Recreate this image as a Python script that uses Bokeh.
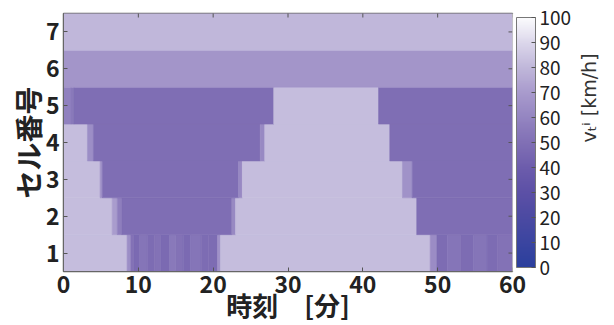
import numpy as np
from bokeh.plotting import figure
from bokeh.models import (ColumnDataSource, LinearColorMapper, ColorBar, FixedTicker,
                          LinearAxis)
from bokeh.transform import transform
from bokeh.embed import file_html
from bokeh.resources import INLINE

# ---------------- data ----------------
cells = [1, 2, 3, 4, 5, 6, 7]
x_ticks = [0, 10, 20, 30, 40, 50, 60]
cbar_ticks = [0, 10, 20, 30, 40, 50, 60, 70, 80, 90, 100]

# time breakpoints [min] and speed [km/h] of each piece, per cell
row1_edges = [0, 8.5, 9.0, 9.4, 10.2, 11.2, 12.2, 13.0, 14.2, 15.0, 16.0, 17.0, 18.4, 19.4,
              20.6, 21.0, 49.0, 49.9, 51.3, 53.1, 54.8, 56.6, 58.0, 60]
row1_speed = [82, 64, 51, 47, 52, 48, 51, 47, 54, 51, 47, 52, 48, 48,
              66, 82, 63, 48, 52, 48, 52, 48, 51]
row2_edges = [0, 6.5, 7.2, 7.8, 22.5, 23.0, 47.2, 60]
row2_speed = [82, 70, 57, 49, 62, 82, 49]
row3_edges = [0, 4.9, 5.2, 23.4, 23.9, 45.3, 46.6, 60]
row3_speed = [82, 65, 49, 62, 82, 66, 49]
row4_edges = [0, 3.2, 4.0, 26.3, 26.9, 43.6, 60]
row4_speed = [82, 64, 49, 62, 82, 49]
row5_edges = [0, 1.0, 1.4, 28.1, 42.1, 60]
row5_speed = [58, 54, 49, 82, 49]
row6_edges = [0, 60]
row6_speed = [67]
row7_edges = [0, 60]
row7_speed = [80]

rows = [(1, row1_edges, row1_speed), (2, row2_edges, row2_speed), (3, row3_edges, row3_speed),
        (4, row4_edges, row4_speed), (5, row5_edges, row5_speed), (6, row6_edges, row6_speed),
        (7, row7_edges, row7_speed)]

left, right, bottom, top, v = [], [], [], [], []
for cell, edges, speed in rows:
    for i, s in enumerate(speed):
        left.append(edges[i]); right.append(edges[i + 1])
        bottom.append(cell - 0.5); top.append(cell + 0.5); v.append(s)
src = ColumnDataSource(dict(left=left, right=right, bottom=bottom, top=top, v=v))

# ---------------- colour map ----------------
anchors = [(0, "#2b3f9d"), (10, "#3b45a0"), (20, "#4c4aa2"), (30, "#5c50a6"), (40, "#6d5dac"),
           (50, "#8170b5"), (60, "#9485c1"), (70, "#a99bcd"), (80, "#c0b7da"), (90, "#dcd7eb"),
           (100, "#fbfbfd")]
def hx(c):
    return np.array([int(c[i:i + 2], 16) for i in (1, 3, 5)], float)
av = np.array([a[0] for a in anchors], float)
ac = np.array([hx(a[1]) for a in anchors])
palette = []
for t in np.linspace(0, 100, 256):
    rgb = [np.interp(t, av, ac[:, k]) for k in range(3)]
    palette.append("#%02x%02x%02x" % tuple(int(round(c)) for c in rgb))
mapper = LinearColorMapper(palette=palette, low=0, high=100)

# ---------------- figure ----------------
p = figure(width=614, height=325, x_range=(0, 60), y_range=(0.5, 7.5),
           output_backend="svg", toolbar_location=None,
           min_border_left=63, min_border_right=102, min_border_top=13, min_border_bottom=53)
p.quad(left="left", right="right", bottom="bottom", top="top", source=src,
       fill_color=transform("v", mapper), line_color=transform("v", mapper), line_width=0.6)

# mirrored inner ticks on the top and right edges (half of each dash is clipped by the frame)
p.scatter(x=x_ticks, y=[7.5] * len(x_ticks), marker="dash", angle=np.pi / 2, size=8,
          line_color="#555555", line_width=1)
p.scatter(x=[60] * len(cells), y=cells, marker="dash", size=8,
          line_color="#555555", line_width=1)

p.grid.visible = False
p.outline_line_color = "#666666"
p.outline_line_width = 1.5
p.background_fill_color = "white"

for ax in (p.xaxis[0], p.yaxis[0]):
    ax.major_label_text_font = "Noto Sans CJK JP"
    ax.major_label_text_font_style = "bold"
    ax.major_label_text_font_size = "23px"
    ax.major_label_text_color = "#222222"
    ax.major_tick_in = 4
    ax.major_tick_out = 0
    ax.minor_tick_line_color = None
    ax.major_tick_line_color = "#555555"
    ax.axis_line_color = "#666666"
    ax.major_label_standoff = 4
    ax.axis_label_text_font = "Noto Sans CJK JP"
    ax.axis_label_text_font_style = "bold"
    ax.axis_label_text_color = "#222222"
p.xaxis.ticker = FixedTicker(ticks=x_ticks)
p.yaxis.ticker = FixedTicker(ticks=cells)
p.xaxis.axis_label = "時刻\u3000[分]"
p.xaxis.axis_label_text_font_size = "26px"
p.xaxis.axis_label_standoff = -10
p.yaxis.axis_label = "セル番号"
p.yaxis.axis_label_text_font_size = "28px"
p.yaxis.axis_label_standoff = -5

cb = ColorBar(color_mapper=mapper, ticker=FixedTicker(ticks=cbar_ticks), width=19,
              margin=9, padding=4, major_tick_in=4, major_tick_out=0,
              major_tick_line_color="#555555", bar_line_color="#777777",
              major_label_text_font="Noto Sans CJK JP", major_label_text_font_size="19px",
              major_label_text_color="#222222", label_standoff=4, minor_tick_line_color=None)
p.add_layout(cb, "right")

# colour-bar title as the label of an empty axis placed after the colour bar
cb_title = LinearAxis(ticker=FixedTicker(ticks=[]),
                      major_label_standoff=0, major_tick_in=0, major_tick_out=0,
                      minor_tick_line_color=None, axis_line_color=None,
                      axis_label="vₜⁱ  [km/h]", axis_label_standoff=10,
                      axis_label_text_font="DejaVu Sans", axis_label_text_font_size="19px",
                      axis_label_text_font_style="normal", axis_label_text_color="#333333",
                      axis_label_orientation=np.pi / 2)
p.add_layout(cb_title, "right")

open("out.html", "w").write(file_html(p, INLINE))
